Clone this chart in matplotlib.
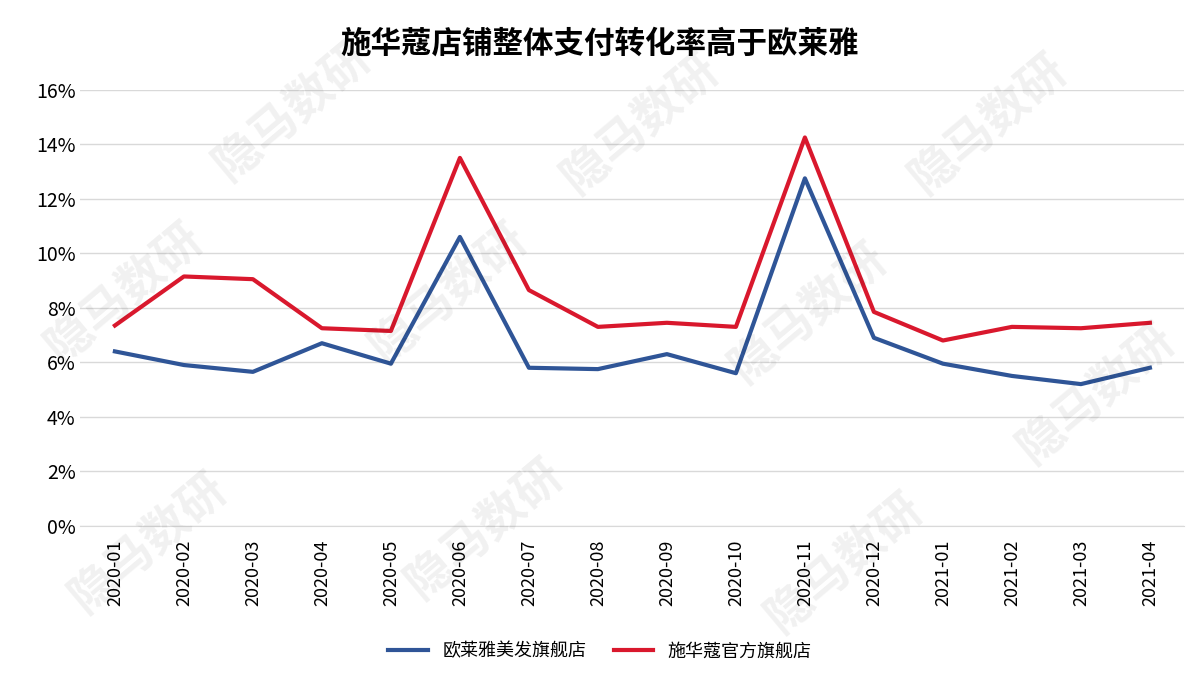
import matplotlib
matplotlib.use("Agg")
import matplotlib.pyplot as plt
from matplotlib.ticker import FuncFormatter

plt.rcParams['font.family'] = ['Noto Sans CJK SC', 'DejaVu Sans']

months = ["2020-01","2020-02","2020-03","2020-04","2020-05","2020-06","2020-07","2020-08",
          "2020-09","2020-10","2020-11","2020-12","2021-01","2021-02","2021-03","2021-04"]
loreal = [6.4, 5.9, 5.65, 6.7, 5.95, 10.6, 5.8, 5.75, 6.3, 5.6, 12.75, 6.9, 5.95, 5.5, 5.2, 5.8]
shiseido = [7.35, 9.15, 9.05, 7.25, 7.15, 13.5, 8.65, 7.3, 7.45, 7.3, 14.25, 7.85, 6.8, 7.3, 7.25, 7.45]

fig = plt.figure(figsize=(12, 6.75), dpi=100)
ax = fig.add_axes([0.067, 0.221, 0.92, 0.646])
x = range(len(months))
ax.plot(x, loreal, color='#2f5597', lw=3, label='欧莱雅美发旗舰店', zorder=3)
ax.plot(x, shiseido, color='#d9182d', lw=3, label='施华蔻官方旗舰店', zorder=3)
ax.set_xlim(-0.5, len(months) - 0.5)
ax.set_ylim(0, 16)
ax.set_yticks(range(0, 17, 2))
ax.yaxis.set_major_formatter(FuncFormatter(lambda v, p: f"{v:.0f}%"))
ax.set_xticks(list(x))
ax.set_xticklabels(months, rotation=90, fontsize=13)
ax.tick_params(axis='y', labelsize=14, length=0)
ax.tick_params(axis='x', length=0, pad=10)
ax.grid(axis='y', color='#d9d9d9', lw=1)
for s in ['top', 'right', 'left']:
    ax.spines[s].set_visible(False)
ax.spines['bottom'].set_color('#d9d9d9')
ax.set_axisbelow(True)
fig.text(0.5, 0.935, '施华蔻店铺整体支付转化率高于欧莱雅', ha='center', va='center',
         fontsize=22, fontweight='bold')
fig.legend(loc='center', bbox_to_anchor=(0.5, 0.035), ncol=2, frameon=False, fontsize=13,
           handlelength=2.2, columnspacing=1.5)

for (wx, wy) in [(0.17, 0.72), (0.46, 0.7), (0.75, 0.7), (0.03, 0.45),
                 (0.3, 0.45), (0.6, 0.42), (0.84, 0.3), (0.05, 0.08), (0.33, 0.1),
                 (0.63, 0.05)]:
    fig.text(wx, wy, '隐马数研', rotation=40, fontsize=34, fontweight='bold',
             color='#000000', alpha=0.06, ha='left', va='bottom', zorder=0)

fig.savefig('out.png', dpi=100)
